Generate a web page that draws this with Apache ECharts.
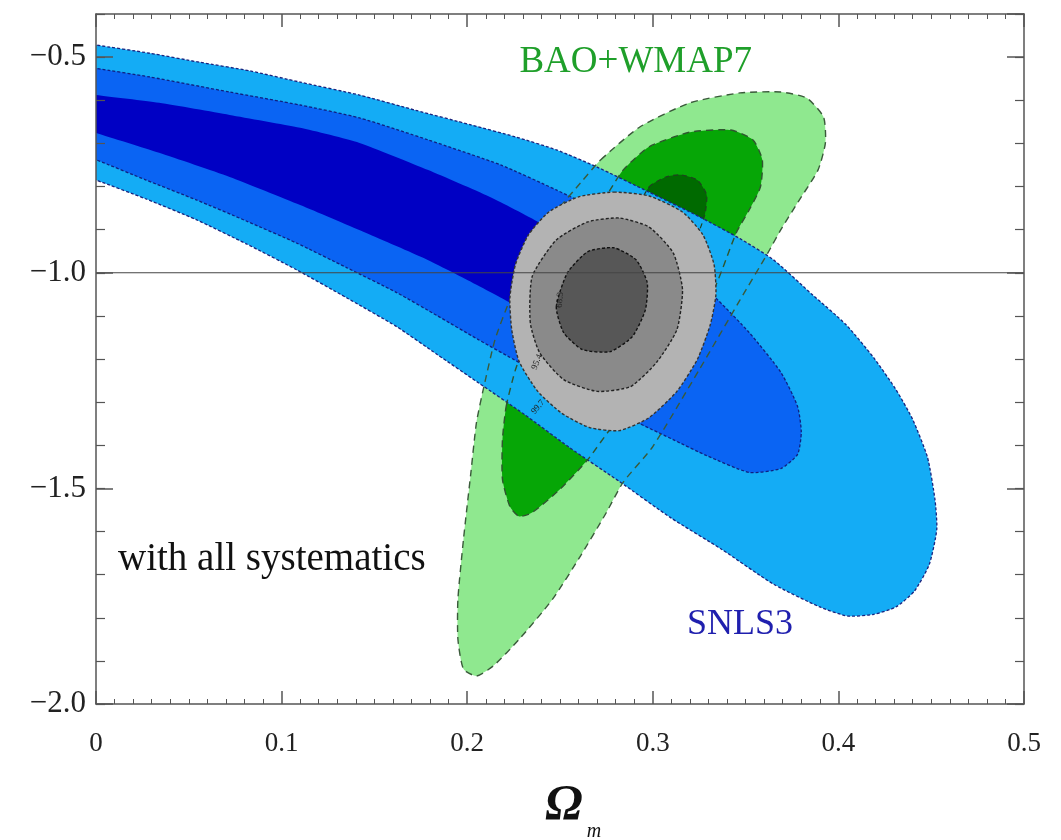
<!DOCTYPE html>
<html>
<head>
<meta charset="utf-8">
<script src="https://cdn.jsdelivr.net/npm/echarts@6/dist/echarts.min.js"></script>
<style>
html,body{margin:0;padding:0;background:#fff;}
#chart{width:1061px;height:840px;}
</style>
</head>
<body>
<div id="chart"></div>
<script>
// ---- Data (Omega_m, w) contour vertices ----
const xRange = [0, 0.5];
const yRange = [-2.0, -0.4];

// SNLS3 contours (outer, middle, inner); first/last vertices run just past the left frame (clipped)
const snlsOuter = [[-0.02,-0.458],[0,-0.472],[0.029,-0.491],[0.056,-0.512],[0.083,-0.532],[0.110,-0.558],[0.142,-0.588],[0.172,-0.623],[0.202,-0.657],[0.226,-0.685],[0.248,-0.715],[0.270,-0.755],[0.298,-0.813],[0.325,-0.870],[0.347,-0.921],[0.365,-0.970],[0.386,-1.051],[0.404,-1.120],[0.419,-1.197],[0.431,-1.271],[0.440,-1.340],[0.448,-1.428],[0.452,-1.525],[0.453,-1.595],[0.449,-1.676],[0.441,-1.738],[0.431,-1.775],[0.419,-1.792],[0.405,-1.796],[0.390,-1.775],[0.365,-1.722],[0.337,-1.641],[0.310,-1.569],[0.282,-1.484],[0.255,-1.405],[0.231,-1.329],[0.206,-1.255],[0.184,-1.190],[0.162,-1.125],[0.135,-1.058],[0.108,-0.993],[0.081,-0.933],[0.054,-0.877],[0.027,-0.829],[0,-0.785],[-0.02,-0.755]];
const snlsMid = [[-0.02,-0.512],[0,-0.526],[0.029,-0.546],[0.072,-0.581],[0.110,-0.611],[0.142,-0.641],[0.179,-0.692],[0.218,-0.750],[0.248,-0.808],[0.272,-0.859],[0.298,-0.935],[0.320,-1.005],[0.335,-1.063],[0.352,-1.139],[0.369,-1.231],[0.378,-1.310],[0.380,-1.370],[0.378,-1.421],[0.369,-1.454],[0.352,-1.463],[0.329,-1.424],[0.311,-1.387],[0.293,-1.350],[0.272,-1.306],[0.250,-1.259],[0.228,-1.208],[0.206,-1.155],[0.184,-1.100],[0.162,-1.046],[0.135,-0.988],[0.108,-0.931],[0.081,-0.880],[0.054,-0.831],[0.027,-0.785],[0,-0.738],[-0.02,-0.708]];
const snlsInner = [[-0.02,-0.576],[0,-0.588],[0.034,-0.606],[0.072,-0.634],[0.110,-0.664],[0.142,-0.699],[0.179,-0.762],[0.212,-0.824],[0.239,-0.884],[0.258,-0.935],[0.272,-0.975],[0.282,-1.016],[0.278,-1.067],[0.266,-1.109],[0.250,-1.139],[0.223,-1.069],[0.198,-1.012],[0.175,-0.963],[0.144,-0.905],[0.110,-0.843],[0.072,-0.778],[0.034,-0.722],[0,-0.676],[-0.02,-0.650]];

// BAO+WMAP7 contours
const baoOuter = [[0.272,-0.738],[0.293,-0.662],[0.320,-0.606],[0.347,-0.583],[0.369,-0.581],[0.383,-0.595],[0.392,-0.639],[0.393,-0.699],[0.389,-0.762],[0.379,-0.831],[0.369,-0.900],[0.362,-0.954],[0.347,-1.063],[0.325,-1.225],[0.300,-1.403],[0.284,-1.486],[0.275,-1.556],[0.261,-1.657],[0.246,-1.757],[0.228,-1.850],[0.214,-1.912],[0.205,-1.935],[0.198,-1.919],[0.195,-1.850],[0.195,-1.757],[0.198,-1.618],[0.202,-1.463],[0.205,-1.347],[0.209,-1.264],[0.215,-1.155],[0.223,-1.063],[0.234,-0.965],[0.248,-0.859],[0.261,-0.792]];
const baoMid = [[0.221,-1.310],[0.226,-1.225],[0.234,-1.132],[0.247,-1.028],[0.263,-0.912],[0.277,-0.808],[0.284,-0.762],[0.298,-0.708],[0.320,-0.674],[0.342,-0.669],[0.354,-0.692],[0.359,-0.738],[0.358,-0.801],[0.352,-0.854],[0.345,-0.907],[0.332,-1.046],[0.308,-1.178],[0.293,-1.282],[0.277,-1.363],[0.265,-1.433],[0.250,-1.502],[0.235,-1.556],[0.228,-1.565],[0.223,-1.542],[0.219,-1.479],[0.219,-1.387]];
const baoInner = [[0.298,-0.801],[0.307,-0.778],[0.315,-0.773],[0.324,-0.785],[0.329,-0.819],[0.328,-0.866],[0.323,-0.924],[0.309,-1.039],[0.293,-1.155],[0.277,-1.248],[0.266,-1.282],[0.258,-1.271],[0.256,-1.225],[0.263,-1.132],[0.277,-0.993],[0.290,-0.866]];

// Combined contours
const combOuter = [[0.279,-0.813],[0.298,-0.822],[0.316,-0.859],[0.327,-0.912],[0.333,-0.981],[0.334,-1.051],[0.331,-1.120],[0.324,-1.201],[0.313,-1.275],[0.298,-1.336],[0.282,-1.366],[0.266,-1.359],[0.251,-1.326],[0.238,-1.275],[0.228,-1.206],[0.224,-1.132],[0.223,-1.058],[0.226,-0.981],[0.233,-0.912],[0.244,-0.859],[0.260,-0.824]];
const combMid = [[0.234,-1.116],[0.235,-1.009],[0.248,-0.924],[0.265,-0.882],[0.282,-0.873],[0.298,-0.894],[0.311,-0.954],[0.316,-1.039],[0.313,-1.132],[0.302,-1.208],[0.288,-1.264],[0.270,-1.275],[0.252,-1.248],[0.239,-1.185]];
const combInner = [[0.248,-1.079],[0.254,-1.000],[0.265,-0.951],[0.279,-0.942],[0.291,-0.970],[0.297,-1.023],[0.296,-1.086],[0.289,-1.148],[0.277,-1.183],[0.262,-1.178],[0.252,-1.139]];

// Reference line w = -1
const refLine = [[0,-1.0],[0.5,-1.0]];

// Tick settings
const xTickStep = 0.1;
const yTickStep = 0.5;
const yMinorStep = 0.1;

// ---- Chart ----
const FONT = '"Liberation Serif","DejaVu Serif",serif';
const chart = echarts.init(document.getElementById('chart'), null, {renderer:'canvas'});

function polySeries(pts, fill, stroke, dash, lw, z){
  return {
    type:'custom', coordinateSystem:'cartesian2d', xAxisIndex:0, yAxisIndex:0,
    z:z, silent:true, animation:false, clip:true,
    data:[pts[0]],
    renderItem:function(params, api){
      return {
        type:'polygon',
        shape:{points: pts.map(function(p){return api.coord(p);}), smooth:0.2},
        style:{fill:fill, stroke:stroke, lineWidth:lw, lineDash:dash}
      };
    }
  };
}

const tickStyle = {color:'#555', width:1.5};
function yFmt(v){ return (v<0?'\u2212':'') + Math.abs(v).toFixed(1); }
function xFmt(v){ return v===0 ? '0' : v.toFixed(1); }

const xBase = {type:'value', min:xRange[0], max:xRange[1], interval:xTickStep,
  splitLine:{show:false}, minorSplitLine:{show:false}, z:12,
  axisLine:{show:true, onZero:false, lineStyle:tickStyle},
  axisTick:{show:true, inside:true, length:13, lineStyle:tickStyle},
  minorTick:{show:true, splitNumber:10, length:5, lineStyle:{color:'#555', width:1}}};

function yMajor(pos, labels){
  return {type:'value', gridIndex:0, position:pos, min:yRange[0], max:yRange[1], interval:yTickStep,
    splitLine:{show:false}, z:12,
    axisLine:{show:true, onZero:false, lineStyle:tickStyle},
    axisTick:{show:true, inside:true, length:17, lineStyle:tickStyle},
    axisLabel: labels ? {show:true, margin:10, fontFamily:FONT, fontSize:31, color:'#222', formatter:yFmt, showMaxLabel:false} : {show:false}};
}
function yMinor(pos){
  return {type:'value', gridIndex:1, position:pos, min:yRange[0], max:yRange[1], interval:yMinorStep,
    splitLine:{show:false}, z:12,
    axisLine:{show:false}, axisLabel:{show:false},
    axisTick:{show:true, inside:true, length:9, lineStyle:{color:'#555', width:1.2}}};
}

const gridBox = {left:96, right:37, top:14, bottom:136, containLabel:false};

const option = {
  backgroundColor:'#fff',
  animation:false,
  grid:[Object.assign({}, gridBox), Object.assign({}, gridBox)],
  xAxis:[
    Object.assign({}, xBase, {gridIndex:0, position:'bottom',
      axisLabel:{show:true, margin:26, fontFamily:FONT, fontSize:27, color:'#222', formatter:xFmt}}),
    Object.assign({}, xBase, {gridIndex:0, position:'top', axisLabel:{show:false}}),
    {type:'value', gridIndex:1, min:xRange[0], max:xRange[1], show:false}
  ],
  yAxis:[
    yMajor('left', true),
    yMajor('right', false),
    yMinor('left'),
    yMinor('right')
  ],
  series:[
    polySeries(baoOuter, '#8fe88f', 'none', null, 0, 1),
    polySeries(baoMid, '#06a606', 'none', null, 0, 2),
    polySeries(baoInner, '#006a00', 'none', null, 0, 3),
    polySeries(snlsOuter, '#14acf5', '#1a237e', [3,2], 1.3, 4),
    polySeries(snlsMid, '#0a64f3', '#102080', [3,2], 1.3, 5),
    polySeries(snlsInner, '#0000c4', 'none', null, 0, 6),
    polySeries(baoOuter, 'none', '#3a5a3a', [7,5], 1.4, 7),
    polySeries(baoMid, 'none', '#2f552f', [7,5], 1.4, 7),
    polySeries(baoInner, 'none', '#204020', [5,4], 1.2, 7),
    polySeries(combOuter, '#b3b3b3', '#333', [3,2], 1.4, 8),
    polySeries(combMid, '#8a8a8a', '#222', [3,2], 1.4, 9),
    polySeries(combInner, '#575757', '#111', [3,2], 1.4, 10),
    {type:'line', data:refLine, xAxisIndex:0, yAxisIndex:0, symbol:'none', silent:true,
     lineStyle:{color:'#444', width:1.2}, z:11, animation:false}
  ],
  graphic:[
    {type:'text', x:752, y:62, z:20, silent:true,
     style:{text:'BAO+WMAP7', font:'37px ' + FONT, fill:'#1f9f2a', align:'right', verticalAlign:'middle'}},
    {type:'text', x:118, y:560, z:20, silent:true,
     style:{text:'with all systematics', font:'39px ' + FONT, fill:'#111', align:'left', verticalAlign:'middle'}},
    {type:'text', x:740, y:625, z:20, silent:true,
     style:{text:'SNLS3', font:'36px ' + FONT, fill:'#1f1fae', align:'center', verticalAlign:'middle'}},
    {type:'text', x:564, y:806, z:20, silent:true,
     style:{text:'\u03A9', font:'italic bold 50px ' + FONT, fill:'#111', align:'center', verticalAlign:'middle'}},
    {type:'text', x:594, y:832, z:20, silent:true,
     style:{text:'m', font:'italic 20px ' + FONT, fill:'#111', align:'center', verticalAlign:'middle'}},
    {type:'text', x:560, y:300, rotation:Math.PI/2*0.95, z:20, silent:true,
     style:{text:'68.3', font:'9px ' + FONT, fill:'#222', align:'center', verticalAlign:'middle'}},
    {type:'text', x:537, y:362, rotation:Math.PI/2*0.75, z:20, silent:true,
     style:{text:'95.4', font:'9px ' + FONT, fill:'#222', align:'center', verticalAlign:'middle'}},
    {type:'text', x:538, y:407, rotation:Math.PI/2*0.55, z:20, silent:true,
     style:{text:'99.7', font:'9px ' + FONT, fill:'#222', align:'center', verticalAlign:'middle'}}
  ]
};
chart.setOption(option);
</script>
</body>
</html>
